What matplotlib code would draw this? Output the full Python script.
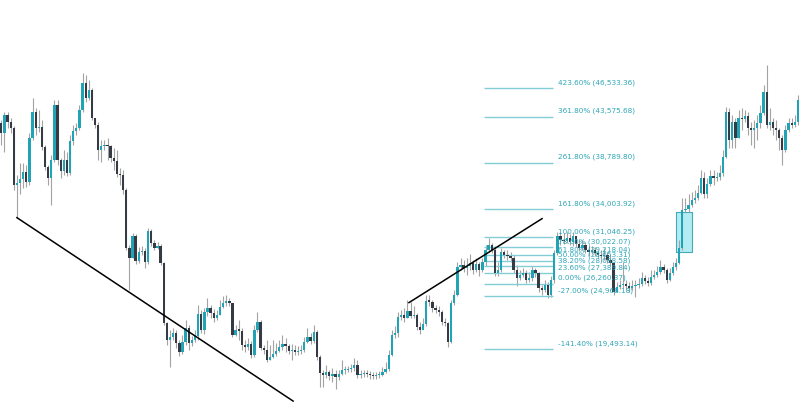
import numpy as np
import matplotlib.pyplot as plt
from matplotlib.patches import Rectangle
import matplotlib.transforms as mtransforms

# candle data, prices in thousands (open of each bar = previous close)
first_open = 42.9
closes = [
    41.9, 43.7, 43.0, 42.4, 36.5, 36.7, 37.1, 37.8, 36.8, 41.4,
    44.0, 42.4, 42.5, 40.4, 38.4, 37.2, 39.1, 44.8, 39.1, 37.9,
    39.1, 37.7, 41.0, 42.1, 42.4, 44.3, 47.0, 45.5, 46.3, 43.4,
    42.7, 40.1, 40.5, 40.6, 40.5, 39.3, 39.0, 37.6, 37.5, 36.0,
    30.0, 28.9, 31.2, 28.6, 29.5, 29.6, 28.5, 31.7, 30.5, 30.0,
    30.2, 28.4, 22.2, 20.4, 20.7, 21.1, 20.1, 19.2, 20.2, 21.7,
    20.1, 20.4, 20.8, 23.1, 21.5, 23.3, 23.7, 23.2, 22.7, 23.0,
    23.8, 24.3, 24.4, 24.3, 20.9, 21.5, 21.4, 19.9, 19.7, 20.0,
    18.9, 21.5, 22.3, 19.6, 19.4, 18.4, 18.7, 19.0, 19.3, 19.7,
    20.0, 19.8, 19.3, 19.4, 19.2, 19.3, 19.4, 20.2, 20.7, 20.3,
    21.3, 18.7, 17.0, 16.8, 17.1, 16.7, 16.9, 16.6, 16.9, 17.3,
    17.3, 17.4, 17.5, 17.8, 16.8, 16.9, 17.0, 16.9, 16.8, 16.7,
    16.75, 16.8, 17.1, 17.4, 18.9, 20.9, 21.1, 22.8, 23.0, 22.7,
    23.4, 22.9, 23.0, 21.8, 21.5, 22.1, 24.5, 24.4, 23.7, 23.5,
    23.3, 22.3, 22.2, 20.2, 24.3, 25.1, 28.0, 28.2, 27.9, 28.1,
    28.4, 27.7, 28.3, 27.7, 28.5, 29.8, 30.3, 29.8, 27.4, 27.7,
    29.5, 29.2, 29.1, 28.9, 27.7, 26.8, 27.2, 27.4, 26.6, 26.8,
    27.7, 27.4, 25.8, 25.6, 26.1, 25.1, 26.6, 29.4, 31.2, 30.8,
    30.7, 31.0, 30.6, 31.2, 30.4, 30.0, 30.3, 29.8, 29.5, 29.8,
    29.4, 29.2, 29.1, 29.2, 28.7, 28.4, 25.4, 25.9, 26.1, 26.2,
    26.0, 25.8, 26.0, 26.1, 26.2, 26.8, 26.5, 26.3, 27.0, 27.2,
    27.5, 28.0, 27.7, 26.6, 27.4, 28.0, 28.4, 30.0, 33.9, 34.0,
    34.4, 34.9, 35.1, 35.7, 37.2, 35.5, 36.6, 37.4, 37.2, 37.3,
    37.7, 39.4, 44.0, 41.1, 43.0, 41.4, 43.4, 43.3, 43.6, 42.4,
    42.2, 42.4, 42.9, 43.9, 46.1, 42.7, 43.0, 42.4, 42.2, 41.4,
    40.1, 42.2, 42.9, 42.7, 43.0, 45.3,
]
highs = [
    43.2, 44.0, 44.0, 43.4, 42.6, 37.5, 38.8, 38.8, 38.6, 41.9,
    45.5, 44.5, 44.3, 43.2, 40.6, 38.6, 39.6, 45.3, 45.3, 39.3,
    40.1, 39.9, 41.7, 42.7, 42.9, 44.8, 48.1, 47.9, 47.4, 46.5,
    43.4, 43.0, 41.1, 41.1, 41.4, 40.6, 40.3, 40.1, 38.2, 38.0,
    36.2, 30.3, 31.5, 31.4, 30.1, 30.2, 30.0, 32.0, 31.9, 30.8,
    30.6, 30.4, 28.5, 22.3, 21.5, 21.7, 21.5, 20.4, 20.9, 22.5,
    22.0, 20.8, 21.5, 24.1, 23.5, 23.7, 24.8, 24.1, 23.6, 23.5,
    24.6, 25.0, 25.1, 24.8, 24.1, 22.0, 22.5, 21.7, 20.4, 20.6,
    20.3, 22.0, 23.3, 22.5, 19.9, 20.4, 19.9, 20.4, 20.1, 20.4,
    20.9, 20.6, 20.0, 20.0, 19.9, 19.8, 19.9, 20.7, 21.7, 21.1,
    22.0, 21.5, 18.9, 17.3, 17.8, 17.3, 17.5, 17.3, 17.3, 18.4,
    17.7, 17.7, 17.9, 18.6, 18.4, 17.3, 17.3, 17.3, 17.2, 17.1,
    17.1, 17.2, 17.6, 18.1, 19.4, 21.5, 21.9, 23.3, 23.5, 23.7,
    24.6, 24.4, 24.0, 23.2, 22.3, 22.7, 25.1, 25.1, 24.6, 24.1,
    24.0, 23.5, 22.7, 22.3, 24.6, 25.6, 28.5, 28.9, 28.7, 28.9,
    29.3, 28.7, 28.9, 28.5, 28.9, 30.3, 31.0, 30.5, 30.2, 28.5,
    30.0, 29.8, 29.8, 29.5, 29.2, 28.2, 27.7, 27.9, 27.7, 27.5,
    28.1, 27.9, 27.5, 26.1, 26.6, 26.4, 27.1, 29.8, 31.6, 31.6,
    31.5, 31.6, 31.4, 31.6, 31.2, 30.8, 30.8, 30.6, 30.3, 30.2,
    30.1, 29.8, 29.8, 30.0, 29.5, 29.3, 28.5, 26.4, 26.6, 28.5,
    26.6, 26.4, 26.6, 26.6, 26.8, 27.5, 27.2, 27.0, 27.7, 27.7,
    28.1, 28.7, 28.3, 27.9, 27.9, 28.5, 28.9, 30.8, 35.1, 35.1,
    35.5, 35.8, 36.0, 36.5, 38.0, 37.8, 37.2, 38.0, 38.0, 37.8,
    38.6, 40.1, 44.6, 44.5, 43.7, 43.4, 44.3, 44.5, 44.3, 44.0,
    43.0, 43.2, 43.7, 44.8, 46.8, 48.9, 44.5, 43.4, 43.2, 42.4,
    41.7, 42.7, 43.4, 43.4, 43.7, 45.8,
]
lows = [
    40.6, 39.9, 42.4, 41.9, 36.0, 33.1, 35.5, 36.2, 36.3, 36.5,
    41.1, 41.7, 42.0, 40.1, 38.0, 36.5, 34.4, 38.9, 38.6, 37.2,
    37.5, 37.4, 37.5, 40.6, 41.7, 42.2, 44.0, 45.1, 45.3, 43.2,
    42.4, 39.1, 38.9, 40.1, 39.1, 38.9, 38.0, 37.3, 36.5, 35.5,
    29.8, 25.6, 28.9, 28.3, 28.4, 29.2, 27.9, 28.3, 30.2, 29.8,
    29.9, 28.2, 22.0, 19.9, 17.6, 20.4, 19.6, 18.8, 19.0, 19.9,
    19.4, 19.8, 20.2, 20.4, 21.1, 21.0, 22.9, 22.7, 22.3, 22.5,
    23.0, 23.7, 24.0, 24.0, 20.7, 20.8, 20.4, 19.4, 19.2, 19.4,
    18.6, 18.7, 21.3, 19.4, 19.0, 18.1, 18.4, 18.6, 18.8, 19.2,
    19.4, 19.2, 19.0, 18.4, 18.9, 18.9, 19.0, 19.2, 20.1, 20.0,
    20.1, 18.4, 15.6, 15.6, 16.5, 16.3, 16.1, 15.4, 16.3, 16.8,
    16.9, 17.1, 17.1, 17.2, 16.5, 16.5, 16.6, 16.6, 16.4, 16.4,
    16.4, 16.5, 16.7, 17.0, 17.2, 18.8, 20.6, 20.7, 22.5, 22.3,
    22.7, 22.7, 22.7, 21.5, 21.0, 21.7, 21.9, 24.0, 23.3, 23.2,
    22.9, 22.0, 21.9, 19.7, 20.1, 24.1, 25.0, 27.7, 27.5, 27.2,
    27.7, 27.3, 27.5, 27.1, 27.5, 28.1, 29.5, 29.4, 27.1, 27.1,
    27.5, 28.9, 28.7, 28.5, 27.4, 26.0, 26.6, 27.0, 26.3, 26.4,
    26.5, 27.0, 25.4, 25.1, 25.4, 24.8, 24.9, 26.3, 29.2, 30.3,
    30.4, 30.5, 30.3, 30.2, 30.1, 29.6, 29.8, 29.4, 29.1, 29.3,
    29.1, 28.9, 28.5, 28.7, 28.4, 28.1, 25.1, 25.4, 25.7, 25.8,
    25.6, 25.4, 25.6, 24.9, 25.8, 26.0, 26.2, 26.0, 26.1, 26.7,
    27.0, 27.3, 27.4, 26.3, 26.5, 27.2, 27.7, 28.3, 29.8, 33.7,
    33.7, 34.2, 34.6, 34.9, 35.5, 35.1, 35.1, 36.4, 36.5, 36.9,
    37.0, 37.4, 39.3, 40.3, 40.3, 40.3, 41.4, 42.2, 43.0, 41.7,
    40.6, 40.3, 41.1, 42.4, 43.7, 42.4, 42.2, 41.7, 41.1, 40.1,
    38.6, 39.9, 42.0, 42.4, 42.5, 42.7,
]

# fibonacci retracement / extension levels
fib_pct = [423.6, 361.8, 261.8, 161.8, 100.0, 78.6, 61.8, 50.0, 38.2, 23.6, 0.0, -27.0, -141.4]
fib_price = [46533.36, 43575.68, 38789.80, 34003.92, 31046.25, 30022.07, 29218.04,
             28653.31, 28088.58, 27389.84, 26260.37, 24968.18, 19493.14]

# drawings (bar index, price in thousands)
trend_down = ([5, 93.4], [33.1, 14.1])
trend_up = ([130.5, 173.1], [24.3, 33.0])
fib_span = (154.5, 176.6)
box = (215.9, 221.0, 29.54, 33.69)

up_color = '#1fa3b5'
down_color = '#363a45'
wick_color = '#a3a3a3'
fib_line = '#84cdd6'
fib_text = '#2ea7b7'

closes = np.array(closes)
opens = np.concatenate([[first_open], closes[:-1]])
highs = np.array(highs)
lows = np.array(lows)
x = np.arange(len(closes))

fig = plt.figure(figsize=(8, 4.15), dpi=100)
ax = fig.add_axes([0, 0, 1, 1])
ax.set_xlim(-0.42, 255.67)
ax.set_ylim(12.656, 55.65)
ax.axis('off')

ax.add_patch(Rectangle((box[0], box[2]), box[1] - box[0], box[3] - box[2],
                       facecolor='#b3ecf3', edgecolor='#45a9b7', lw=0.8, zorder=0.5))

ax.vlines(x, lows, highs, color=wick_color, lw=0.8, zorder=1)
bottoms = np.minimum(opens, closes)
heights = np.maximum(np.abs(closes - opens), 0.12)
colors = np.where(closes >= opens, up_color, down_color)
ax.bar(x, heights, bottom=bottoms, width=0.74, color=colors, linewidth=0, zorder=2)

ax.plot(*trend_down, color='black', lw=1.1, zorder=3)
ax.plot(*trend_up, color='black', lw=1.1, zorder=3)

fib_k = np.array(fib_price) / 1000
ax.hlines(fib_k, fib_span[0], fib_span[1], color=fib_line, lw=1.0, zorder=1.5)
offset = mtransforms.offset_copy(ax.transData, fig=fig, x=0, y=5.5, units='dots')
for p, v in zip(fib_pct, fib_price):
    ax.text(fib_span[1] + 1.6, v / 1000, f"{p:.2f}% ({v:,.2f})", transform=offset,
            fontsize=5.2, color=fib_text, va='center', ha='left', zorder=4)

fig.savefig('out.png', dpi=100)
